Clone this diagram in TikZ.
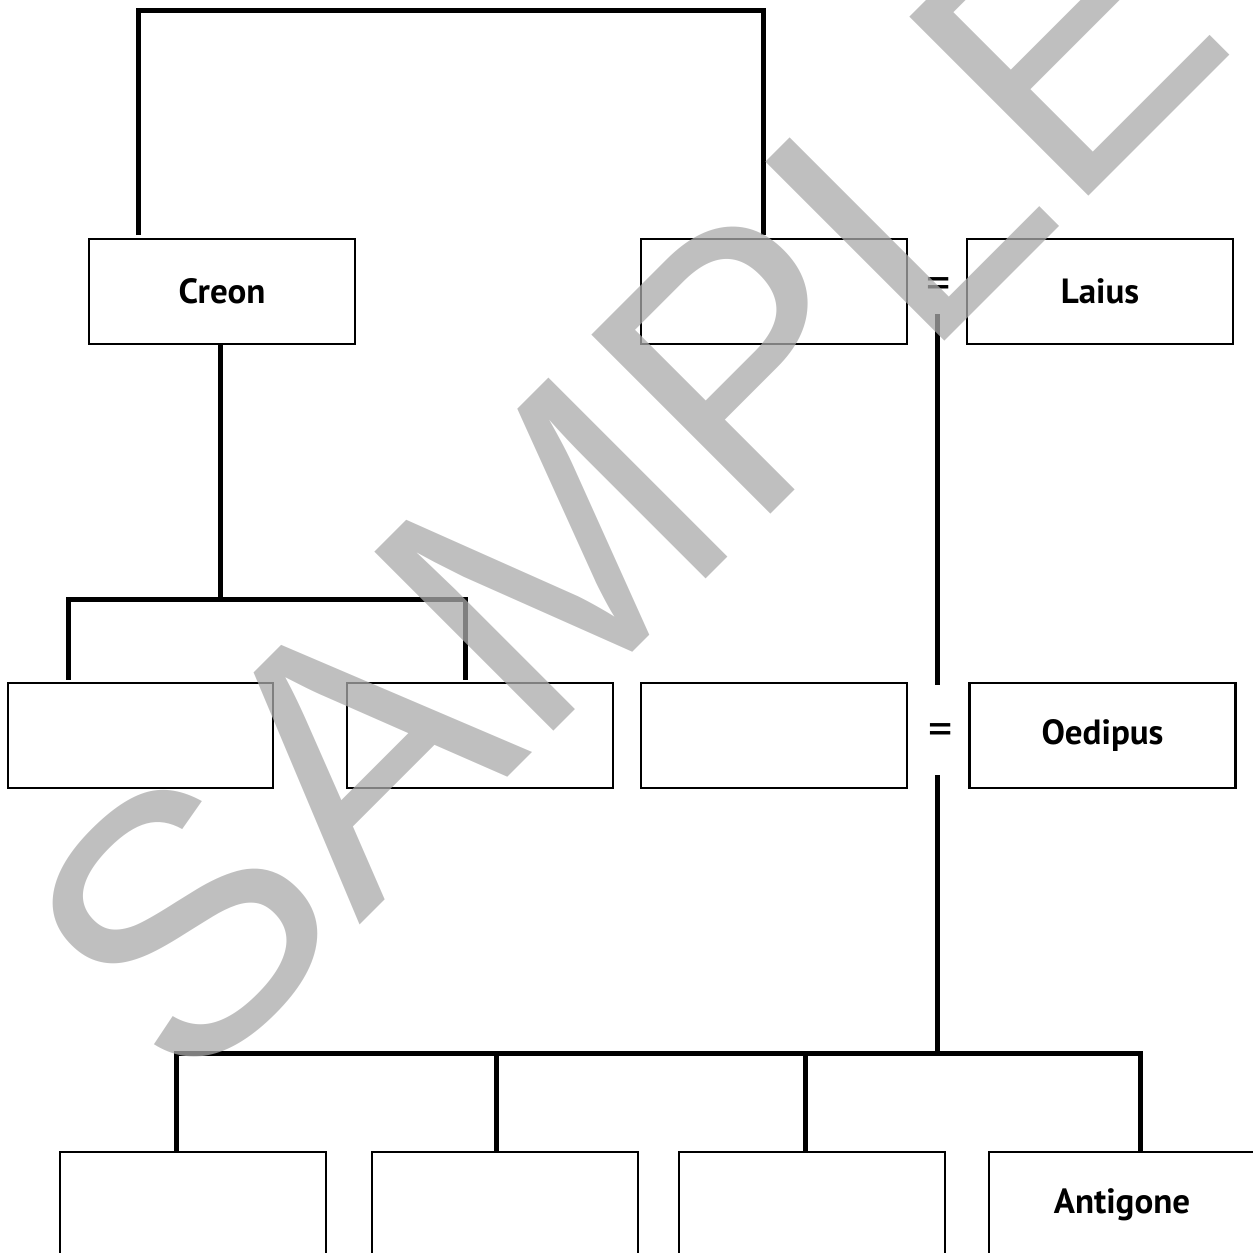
\documentclass[tikz,border=0pt]{standalone}
\usepackage{fontspec}
\setmainfont{PT Sans}
\newfontfamily\wmfont{Liberation Sans}
\definecolor{wmgray}{RGB}{170,170,170}
\begin{document}
\begin{tikzpicture}[x=1pt,y=-1pt,
  box/.style={draw, line width=2.6pt, minimum width=266pt, minimum height=105pt,
    inner sep=0pt, font=\bfseries\fontsize{35}{40}\selectfont},
  conn/.style={line width=5pt},
  eqsign/.style={inner sep=0pt, font=\fontsize{48}{48}\selectfont},
  watermark/.style={rotate=45, inner sep=0pt, text=wmgray, text opacity=0.75,
    font=\wmfont\fontsize{368}{368}\selectfont}]
\clip (0,0) rectangle (1253,1253);
% boxes
\node[box] (creon) at (222,291.5) {Creon};
\node[box] (jocasta) at (774,291.5) {};
\node[box] (laius) at (1100,291.5) {Laius};
\node[box, minimum width=265pt] (c1) at (140.5,735.5) {};
\node[box] (c2) at (480,735.5) {};
\node[box] (c3) at (774,735.5) {};
\node[box] (oedipus) at (1102.5,735.5) {Oedipus};
\node[box] (b1) at (193,1204.5) {};
\node[box] (b2) at (505,1204.5) {};
\node[box] (b3) at (812,1204.5) {};
\node[box] (antigone) at (1122,1204.5) {Antigone};
% marriage signs
\node[eqsign] (eq1) at (939,289) {=};
\node[eqsign] (eq2) at (941,735) {=};
% connector points
\coordinate (topL) at (138,10);
\coordinate (topR) at (763,10);
\coordinate (kbus) at (220,599);
\coordinate (kL) at (68.5,599);
\coordinate (kR) at (465,599);
\coordinate (m1) at (937.5,314);
\coordinate (m1b) at (937.5,685);
\coordinate (m2) at (937.5,775);
\coordinate (d1) at (176,1053);
\coordinate (d2) at (496,1053);
\coordinate (d3) at (805.5,1053);
\coordinate (d4) at (1140,1053);
% connectors
\draw[conn, shorten <=2.5pt, shorten >=2.5pt]
  (creon.north -| topL) -- (topL) -- (topR) -- (jocasta.north -| topR);
\draw[conn] (creon.south -| kbus) -- (kbus);
\draw[conn, shorten <=2pt, shorten >=2pt]
  (c1.north -| kL) -- (kL) -- (kR) -- (c2.north -| kR);
\draw[conn] (m1) -- (m1b);
\draw[conn] (m2) -- (m2 |- d4);
\draw[conn] (b1.north -| d1) -- (d1) -- (d4) -- (antigone.north -| d4);
\draw[conn] (d2) -- (b2.north -| d2);
\draw[conn] (d3) -- (b3.north -| d3);
% watermark
\node[watermark] (wm) at (624,482) {SAMPLE};
\end{tikzpicture}
\end{document}
